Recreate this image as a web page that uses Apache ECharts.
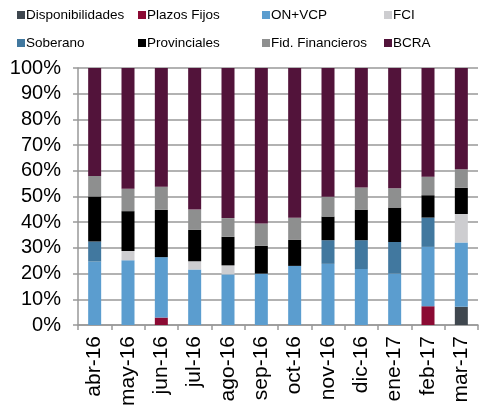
<!DOCTYPE html>
<html>
<head>
<meta charset="utf-8">
<script src="https://cdn.jsdelivr.net/npm/echarts@6/dist/echarts.min.js"></script>
<style>
  html, body { margin:0; padding:0; background:#fff; }
  #chart { width:482px; height:412px; }
</style>
</head>
<body>
<div id="chart"></div>
<script>
var meses = ['abr-16','may-16','jun-16','jul-16','ago-16','sep-16','oct-16','nov-16','dic-16','ene-17','feb-17','mar-17'];
var nombres = ['Disponibilidades','Plazos Fijos','ON+VCP','FCI','Soberano','Provinciales','Fid. Financieros','BCRA'];
var colores = ['#3f474f','#8b0a33','#5b9dcf','#cdcdd0','#41789f','#000000','#8e8f8f','#52133a'];

var disponibilidades = [0,0,0,0,0,0,0,0,0,0,0,7.1];
var plazosFijos      = [0,0,2.9,0,0,0,0,0,0,0,7.3,0];
var onVcp            = [24.7,25.2,23.5,21.6,19.7,20,23,23.8,21.8,20,23.1,25];
var fci              = [0,3.6,0,3.2,3.5,0,0,0,0,0,0,11.1];
var soberano         = [7.8,0,0,0,0,0,0,9.2,11.2,12.3,11.4,0];
var provinciales     = [17.5,15.5,18.4,12.2,11.1,10.8,10.1,9.2,11.9,13.4,8.7,10.2];
var fid              = [8,8.7,9,7.9,7.3,8.7,8.6,7.7,8.6,7.5,7.2,7.2];
var bcra             = [42,47,46.2,55.1,58.4,60.5,58.3,50.1,46.5,46.8,42.3,39.4];

var valores = [disponibilidades, plazosFijos, onVcp, fci, soberano, provinciales, fid, bcra];

// posiciones de la leyenda (2 filas x 4 columnas)
var legX = [12, 133, 257, 379];
var legY = [3, 31];

var legends = [];
var series = [];
for (var i = 0; i < nombres.length; i++) {
  legends.push({
    data: [nombres[i]],
    left: legX[i % 4],
    top: legY[Math.floor(i / 4)],
    itemWidth: 8,
    itemHeight: 8,
    icon: 'rect',
    textStyle: { fontFamily: 'Liberation Sans', fontSize: 13.5, color: '#000', padding: [0,0,0,-4] }
  });
  series.push({
    name: nombres[i],
    type: 'bar',
    stack: 'total',
    barWidth: 13,
    data: valores[i],
    itemStyle: { color: colores[i] }
  });
}

var myChart = echarts.init(document.getElementById('chart'));
var option = {
  animation: false,
  color: colores,
  legend: legends,
  grid: { left: 78, right: 4, top: 68, bottom: 87 },
  xAxis: {
    type: 'category',
    data: meses,
    axisLine: { lineStyle: { color: '#999', width: 1.5 } },
    axisTick: { show: true, length: 5, lineStyle: { color: '#999', width: 1.5 } },
    axisLabel: { rotate: 90, interval: 0, fontFamily: 'Liberation Sans', fontSize: 21, color: '#000', margin: 11 }
  },
  yAxis: {
    type: 'value',
    min: 0,
    max: 100,
    interval: 10,
    axisLine: { show: true, lineStyle: { color: '#999', width: 1.5 } },
    axisTick: { show: true, length: 5, lineStyle: { color: '#999', width: 1.5 } },
    splitLine: { show: true, lineStyle: { color: '#999', width: 1.5 } },
    axisLabel: { formatter: '{value}%', fontFamily: 'Liberation Sans', fontSize: 20, color: '#000', margin: 17 }
  },
  series: series
};
myChart.setOption(option);
</script>
</body>
</html>
